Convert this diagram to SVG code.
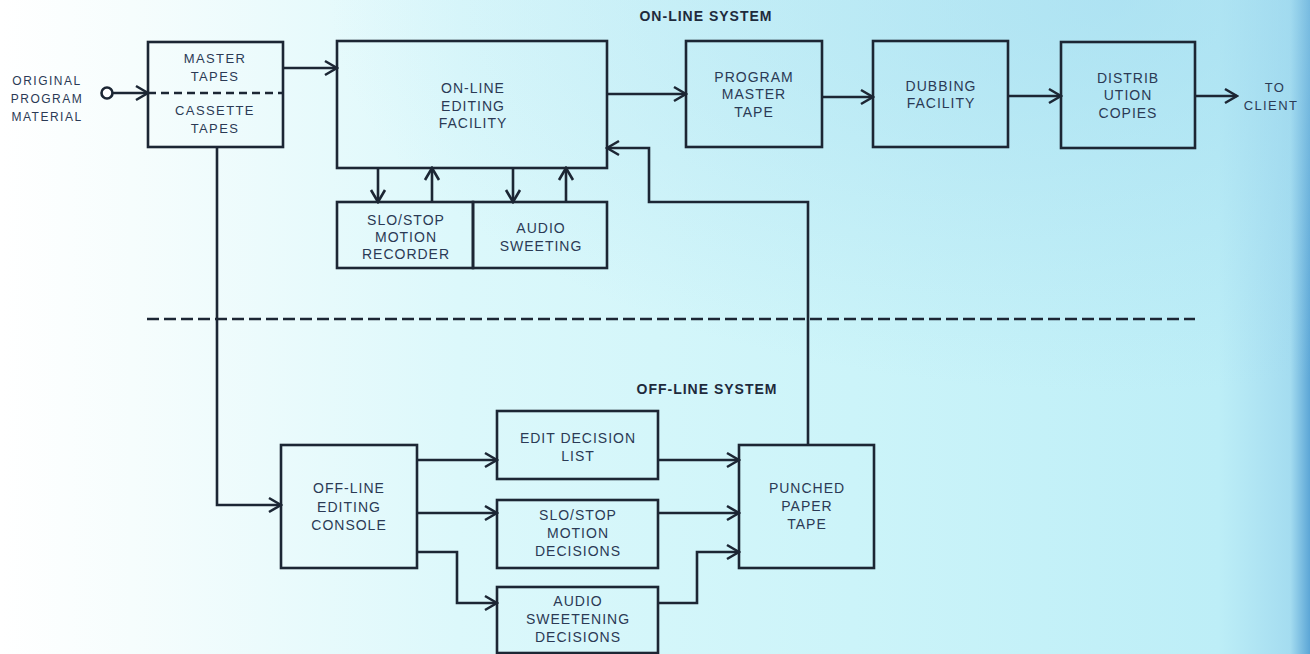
<svg xmlns="http://www.w3.org/2000/svg" width="1310" height="654" viewBox="0 0 1310 654">
<defs>
<linearGradient id="bg" x1="0" y1="0" x2="1" y2="0">
<stop offset="0" stop-color="#ffffff"/>
<stop offset="0.1" stop-color="#f6fdfd"/>
<stop offset="0.35" stop-color="#dcf8fb"/>
<stop offset="0.65" stop-color="#ccf4f9"/>
<stop offset="0.93" stop-color="#bdeef7"/>
<stop offset="0.985" stop-color="#a4dcf0"/>
<stop offset="1" stop-color="#5ca6d6"/>
</linearGradient>
<radialGradient id="tr" cx="0.85" cy="0" r="0.6">
<stop offset="0" stop-color="#9ed8ee" stop-opacity="0.55"/>
<stop offset="1" stop-color="#9ed8ee" stop-opacity="0"/>
</radialGradient>
<marker id="ah" viewBox="-14 -9 16 18" refX="0" refY="0" markerWidth="16" markerHeight="18" markerUnits="userSpaceOnUse" orient="auto">
<path d="M-12,-7 L0,0 L-12,7" fill="none" stroke="#1c2634" stroke-width="2.6" stroke-linejoin="miter"/>
</marker>
<style>
.bx{fill:none;stroke:#1c2634;stroke-width:2.6}
.cn{fill:none;stroke:#1c2634;stroke-width:2.6}
.ar{marker-end:url(#ah)}
.t{font-family:"Liberation Sans",Arial,sans-serif;font-size:14px;letter-spacing:1px;fill:#2b3a55;text-anchor:middle}
.s13{font-size:13px;letter-spacing:1.4px}
.s12{font-size:12px;letter-spacing:1.5px}
.b{font-weight:bold;fill:#1e2a3c}
</style>
</defs>
<rect x="0" y="0" width="1310" height="654" fill="url(#bg)"/>
<rect x="0" y="0" width="1310" height="654" fill="url(#tr)"/>

<g id="connectors">
<circle cx="107" cy="93" r="5.5" fill="#ffffff" stroke="#1c2634" stroke-width="2.6"/>
<line class="cn ar" x1="113" y1="93" x2="148" y2="93"/>
<line class="cn ar" x1="283" y1="68" x2="337" y2="68"/>
<line class="cn ar" x1="607" y1="94" x2="686" y2="94"/>
<line class="cn ar" x1="822" y1="97" x2="873" y2="97"/>
<line class="cn ar" x1="1008" y1="96" x2="1061" y2="96"/>
<line class="cn ar" x1="1195" y1="96" x2="1237" y2="96"/>
<line class="cn ar" x1="378" y1="168" x2="378" y2="202"/>
<line class="cn ar" x1="432" y1="202" x2="432" y2="168"/>
<line class="cn ar" x1="513" y1="168" x2="513" y2="202"/>
<line class="cn ar" x1="566" y1="202" x2="566" y2="168"/>
<path class="cn ar" d="M808,445 V202 H649 V148 H607"/>
<path class="cn ar" d="M217,147 V505 H281"/>
<line class="cn ar" x1="417" y1="460" x2="497" y2="460"/>
<line class="cn ar" x1="417" y1="513" x2="497" y2="513"/>
<path class="cn ar" d="M417,552 H457 V603 H497"/>
<line class="cn ar" x1="658" y1="460" x2="739" y2="460"/>
<line class="cn ar" x1="658" y1="513" x2="739" y2="513"/>
<path class="cn ar" d="M658,603 H697 V552 H739"/>
<line x1="147" y1="319" x2="1195" y2="319" stroke="#1c2634" stroke-width="2.4" stroke-dasharray="12 5"/>
</g>

<g id="source-label">
<text class="t s12" x="47" y="85">ORIGINAL</text>
<text class="t s12" x="47" y="103">PROGRAM</text>
<text class="t s12" x="47" y="121">MATERIAL</text>
</g>

<g id="master-cassette">
<rect class="bx" x="148" y="42" width="135" height="105"/>
<line x1="148" y1="93" x2="283" y2="93" stroke="#1c2634" stroke-width="2.4" stroke-dasharray="8 5"/>
<text class="t s13" x="215" y="63">MASTER</text>
<text class="t s13" x="215" y="81">TAPES</text>
<text class="t s13" x="215" y="115">CASSETTE</text>
<text class="t s13" x="215" y="133">TAPES</text>
</g>

<g id="online-editing">
<rect class="bx" x="337" y="41" width="270" height="127"/>
<text class="t" x="473" y="93">ON-LINE</text>
<text class="t" x="473" y="111">EDITING</text>
<text class="t" x="473" y="128">FACILITY</text>
</g>

<g id="slo-stop-recorder">
<rect class="bx" x="337" y="202" width="136" height="66"/>
<text class="t" x="406" y="225">SLO/STOP</text>
<text class="t" x="406" y="242">MOTION</text>
<text class="t" x="406" y="259">RECORDER</text>
</g>

<g id="audio-sweeting">
<rect class="bx" x="473" y="202" width="134" height="66"/>
<text class="t" x="541" y="233">AUDIO</text>
<text class="t" x="541" y="251">SWEETING</text>
</g>

<g id="program-master">
<rect class="bx" x="686" y="41" width="136" height="106"/>
<text class="t" x="754" y="82">PROGRAM</text>
<text class="t" x="754" y="99">MASTER</text>
<text class="t" x="754" y="117">TAPE</text>
</g>

<g id="dubbing">
<rect class="bx" x="873" y="41" width="135" height="106"/>
<text class="t" x="941" y="91">DUBBING</text>
<text class="t" x="941" y="108">FACILITY</text>
</g>

<g id="distribution">
<rect class="bx" x="1061" y="42" width="134" height="106"/>
<text class="t" x="1128" y="83">DISTRIB</text>
<text class="t" x="1128" y="100">UTION</text>
<text class="t" x="1128" y="118">COPIES</text>
</g>

<g id="client-label">
<text class="t s13" x="1275" y="92">TO</text>
<text class="t s13" x="1271" y="110">CLIENT</text>
</g>

<g id="system-labels">
<text class="t b" x="706" y="21">ON-LINE SYSTEM</text>
<text class="t b" x="707" y="394">OFF-LINE SYSTEM</text>
</g>

<g id="offline-console">
<rect class="bx" x="281" y="445" width="136" height="123"/>
<text class="t" x="349" y="493">OFF-LINE</text>
<text class="t" x="349" y="512">EDITING</text>
<text class="t" x="349" y="530">CONSOLE</text>
</g>

<g id="edit-decision-list">
<rect class="bx" x="497" y="411" width="161" height="68"/>
<text class="t" x="578" y="443">EDIT DECISION</text>
<text class="t" x="578" y="461">LIST</text>
</g>

<g id="slo-stop-decisions">
<rect class="bx" x="497" y="500" width="161" height="68"/>
<text class="t" x="578" y="520">SLO/STOP</text>
<text class="t" x="578" y="538">MOTION</text>
<text class="t" x="578" y="556">DECISIONS</text>
</g>

<g id="audio-decisions">
<rect class="bx" x="497" y="587" width="161" height="66"/>
<text class="t" x="578" y="606">AUDIO</text>
<text class="t" x="578" y="624">SWEETENING</text>
<text class="t" x="578" y="642">DECISIONS</text>
</g>

<g id="punched-tape">
<rect class="bx" x="739" y="445" width="135" height="123"/>
<text class="t" x="807" y="493">PUNCHED</text>
<text class="t" x="807" y="511">PAPER</text>
<text class="t" x="807" y="529">TAPE</text>
</g>
</svg>
